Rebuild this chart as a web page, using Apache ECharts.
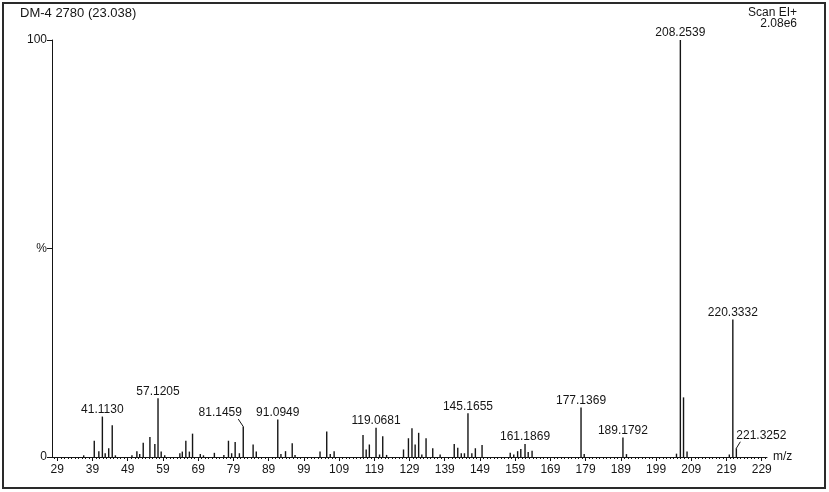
<!DOCTYPE html>
<html><head><meta charset="utf-8">
<script src="https://cdn.jsdelivr.net/npm/echarts@6/dist/echarts.min.js"></script>
<style>html,body{margin:0;padding:0;background:#fff}#chart{width:829px;height:492px}</style>
</head><body><div id="chart"></div>
<script>
// x-axis tick labels (m/z)
const xTickLabels = [29,39,49,59,69,79,89,99,109,119,129,139,149,159,169,179,189,199,209,219,229];
const xMinorTicks = [];
for (let v = 28; v <= 230; v++) xMinorTicks.push(v);

// unlabelled peaks: position on the m/z axis and relative intensity (%)
const peakMz = [36.5,39.5,40.8,42.6,43.6,44.6,45.5,50.2,51.6,52.4,53.4,55.3,56.7,58.5,59.5,
  63.8,64.5,65.5,66.5,67.4,69.6,70.5,73.6,76.3,77.6,78.5,79.5,80.7,84.6,85.5,92.5,93.8,95.7,96.5,
  103.6,105.5,106.5,107.6,115.8,116.7,117.6,120.5,121.4,122.5,127.3,128.7,129.7,130.6,131.6,132.5,
  133.7,135.6,137.7,141.7,142.7,143.7,144.6,146.7,147.7,149.6,157.6,158.6,159.7,160.6,162.7,163.8,
  178.6,190.6,204.8,206.8,207.8,219.8];
const peakIntensity = [0.4,3.9,1.4,0.9,2.1,7.6,0.4,0.4,1.4,0.7,3.4,4.8,3.1,1.3,0.4,
  0.9,1.3,3.9,1.3,5.6,0.7,0.4,1.0,0.5,3.9,0.9,3.6,0.9,3.0,1.3,0.7,1.4,3.3,0.5,
  1.3,6.1,0.7,1.4,5.3,1.8,3.0,0.6,5.0,0.5,1.8,4.5,6.9,3.0,5.8,0.6,
  4.5,2.1,0.6,3.1,2.2,0.9,0.9,0.9,2.1,2.9,1.0,0.6,1.4,1.9,1.2,1.5,
  0.7,0.7,0.8,14.3,1.3,0.6];

// labelled peaks
const labeledMz = [41.8,57.6,81.8,91.6,119.5,145.6,161.8,177.7,189.6,205.9,220.8,221.8];
const labeledIntensity = [9.7,14.1,7.3,9.0,7.0,10.5,3.1,11.9,4.7,100,33,2.1];
const labeledText = ['41.1130','57.1205','81.1459','91.0949','119.0681','145.1655','161.1869',
  '177.1369','189.1792','208.2539','220.3332','221.3252'];

const FONT = '"Liberation Sans", Arial, sans-serif';
const INK = '#151515';

const chart = echarts.init(document.getElementById('chart'), null, {renderer: 'canvas'});

const allPeaks = peakMz.map((m, i) => [m, peakIntensity[i]])
  .concat(labeledMz.map((m, i) => [m, labeledIntensity[i]]));

// label offsets for labels moved aside with a leader line: [text dx, text dy, leader end dx, leader end dy]
const leader = {2: [-23, -14, -5, -7.5], 11: [25, -12.5, 4, -6.5]};

chart.setOption({
  animation: false,
  graphic: [
    {type: 'rect', silent: true, shape: {x: 3, y: 3, width: 822, height: 485},
     style: {fill: null, stroke: '#2a2a2a', lineWidth: 2}},
    {type: 'text', x: 20, y: 7, style: {text: 'DM-4 2780 (23.038)', font: '13px ' + FONT, fill: INK}},
    {type: 'text', x: 797, y: 7, style: {text: 'Scan EI+', font: '12px ' + FONT, fill: INK, align: 'right'}},
    {type: 'text', x: 797, y: 18, style: {text: '2.08e6', font: '12px ' + FONT, fill: INK, align: 'right'}}
  ],
  grid: {left: 52, right: 62, top: 40, bottom: 35, containLabel: false},
  xAxis: [{
    type: 'value', min: 27.5, max: 230.5,
    name: 'm/z', nameLocation: 'end', nameGap: 6,
    nameTextStyle: {fontFamily: FONT, fontSize: 12, color: INK, align: 'left', verticalAlign: 'middle', padding: [4, 0, 0, 0]},
    axisLine: {show: true, lineStyle: {color: INK, width: 1}},
    axisTick: {show: true, length: 4, customValues: xTickLabels, lineStyle: {color: INK}},
    axisLabel: {customValues: xTickLabels, fontFamily: FONT, fontSize: 12, color: INK, margin: 7},
    splitLine: {show: false}
  }, {
    type: 'value', min: 27.5, max: 230.5, position: 'bottom',
    axisLine: {show: false},
    axisTick: {show: true, length: 2, customValues: xMinorTicks, lineStyle: {color: INK}},
    axisLabel: {show: false},
    splitLine: {show: false}
  }],
  yAxis: {
    type: 'value', min: 0, max: 100, interval: 50,
    axisLine: {show: true, lineStyle: {color: INK, width: 1}},
    axisTick: {show: true, length: 5, lineStyle: {color: INK}},
    axisLabel: {fontFamily: FONT, fontSize: 12, color: INK, margin: 5,
      formatter: v => v === 50 ? '%' : String(v)},
    splitLine: {show: false}
  },
  series: [{
    type: 'custom', silent: true, xAxisIndex: 0,
    data: allPeaks,
    renderItem: (params, api) => {
      const p0 = api.coord([api.value(0), 0]);
      const p1 = api.coord([api.value(0), api.value(1)]);
      return {type: 'line', shape: {x1: p0[0], y1: p0[1], x2: p1[0], y2: p1[1]},
        style: {stroke: INK, lineWidth: 1.4}};
    }
  }, {
    type: 'custom', silent: true, xAxisIndex: 0,
    data: labeledMz.map((m, i) => [m, labeledIntensity[i], i]),
    renderItem: (params, api) => {
      const i = api.value(2);
      const p = api.coord([api.value(0), api.value(1)]);
      const L = leader[i];
      const children = [];
      if (L) {
        children.push({type: 'polyline', shape: {points: [[p[0], p[1]], [p[0] + L[2], p[1] + L[3]]]},
          style: {stroke: INK, lineWidth: 1, fill: null}});
        children.push({type: 'text', x: p[0] + L[0], y: p[1] + L[1],
          style: {text: labeledText[i], font: '12px ' + FONT, fill: INK, align: 'center', verticalAlign: 'middle'}});
      } else {
        children.push({type: 'text', x: p[0], y: p[1] - 1,
          style: {text: labeledText[i], font: '12px ' + FONT, fill: INK, align: 'center', verticalAlign: 'bottom'}});
      }
      return {type: 'group', children: children};
    }
  }]
});
</script></body></html>
